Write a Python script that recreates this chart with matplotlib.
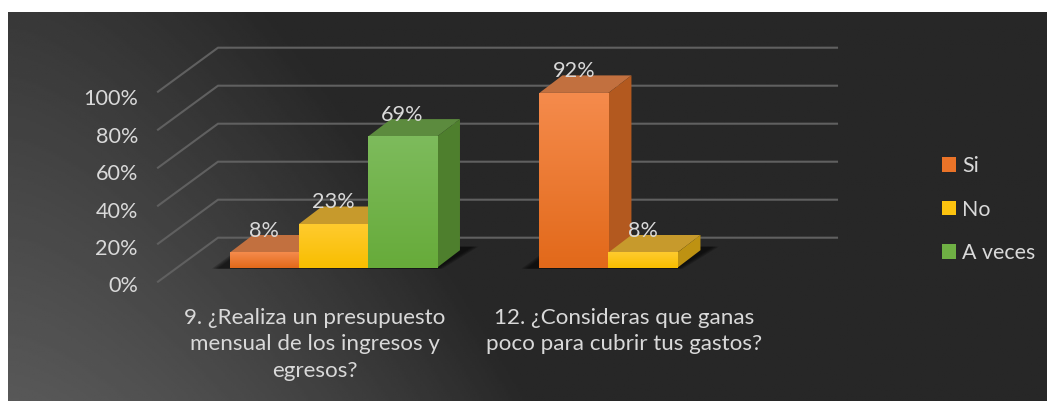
import matplotlib
matplotlib.use("Agg")
import matplotlib.pyplot as plt
import numpy as np
from matplotlib.colors import to_rgb
from matplotlib.patches import Patch, Polygon

W, H = 1047, 401

categories = ["9. ¿Realiza un presupuesto\nmensual de los ingresos y\negresos?",
              "12. ¿Consideras que ganas\npoco para cubrir tus gastos?"]
series_names = ["Si", "No", "A veces"]
si_values = [8, 92]
no_values = [23, 8]
aveces_values = [69, None]
yticks = [0, 20, 40, 60, 80, 100]

face_top = ["#F58B4C", "#FFCB2E", "#7DBB5C"]
face_bottom = ["#E2691A", "#F8BE00", "#67AB3A"]
roof = ["#C2703F", "#C79A2C", "#5C8B3E"]
side = ["#B3591F", "#BE9212", "#4E7F2D"]
legend_colors = ["#EA7328", "#FCC30F", "#6FB044"]
text_col = "#D9D9D9"

plt.rcParams["font.family"] = ["Lato", "DejaVu Sans"]

fig = plt.figure(figsize=(W / 100, H / 100), dpi=100, facecolor="white")


def px_axes(x0, y0, x1, y1):
    return fig.add_axes([x0 / W, 1 - y1 / H, (x1 - x0) / W, (y1 - y0) / H])


# dark backdrop, lighter towards the lower left corner
bg = px_axes(8, 12, W, H)
bg.axis("off")
yy, xx = np.mgrid[0:1:200j, 0:1:500j]
d = (xx * 2.0) ** 1.5 + (1 - yy) * 0.65
shade = 0.155 + 0.19 * np.clip(1 - d, 0, 1)
bg.imshow(shade, cmap="gray", vmin=0, vmax=1, extent=[0, 1, 0, 1], aspect="auto", origin="upper")

# plot area: front plane of the fake 3d box
ax = px_axes(158, 91.7, 777, 281.7)
ax.patch.set_alpha(0)
ax.axis("off")

depth_x = 60 / 309.5
depth_y = 44 / 1.9
bar_w = 0.223
bar_shift_x = 20.7 / 309.5
bar_shift_y = 14 / 1.9
bar_dx = 23 / 309.5
bar_dy = 17.5 / 1.9

# gridlines run along the left wall and across the back wall
for v in yticks:
    ax.plot([0, depth_x, 2 + depth_x], [v, v + depth_y, v + depth_y], color="#606060", lw=1.5,
            clip_on=False, zorder=1, solid_joinstyle="miter")
    ax.text(-0.065, v * 0.986 - 2.5, f"{v}%", ha="right", va="center", color=text_col, fontsize=15.6)

series = [si_values, no_values, aveces_values]
for c, name in enumerate(categories):
    left = c + 0.5 - 1.5 * bar_w + bar_shift_x
    n = sum(s[c] is not None for s in series)
    # floor shadow under the group, stacked polygons for a soft edge
    x0 = left - 0.04
    x1 = left + n * bar_w
    for k in range(4):
        grow = (3 - k) * 0.006
        ax.add_patch(Polygon([(x0 - grow, bar_shift_y - 0.5), (x1 + grow, bar_shift_y - 0.5),
                              (x1 + 1.55 * bar_dx + grow, bar_shift_y + 1.2 * bar_dy),
                              (x0 + 1.3 * bar_dx - grow, bar_shift_y + 1.2 * bar_dy)],
                             fc="black", alpha=0.2, ec="none", zorder=2, clip_on=False))
    for i, s in enumerate(series):
        v = s[c]
        if v is None:
            continue
        x = left + i * bar_w
        y0 = bar_shift_y
        y1 = y0 + v
        zo = 3 + i * 0.1
        ax.add_patch(Polygon([(x, y1), (x + bar_w, y1), (x + bar_w + bar_dx, y1 + bar_dy), (x + bar_dx, y1 + bar_dy)],
                             fc=roof[i], ec="none", zorder=zo, clip_on=False))
        ax.add_patch(Polygon([(x + bar_w, y0), (x + bar_w + bar_dx, y0 + bar_dy),
                              (x + bar_w + bar_dx, y1 + bar_dy), (x + bar_w, y1)],
                             fc=side[i], ec="none", zorder=zo, clip_on=False))
        grad = np.linspace(0, 1, 64)[:, None, None]
        rgb = (1 - grad) * np.array(to_rgb(face_top[i])) + grad * np.array(to_rgb(face_bottom[i]))
        ax.imshow(rgb, extent=[x, x + bar_w, y0, y1], aspect="auto", origin="upper", zorder=zo + 0.01)
        ax.text(x + bar_w / 2, y1 + bar_dy - 3.1, f"{v}%", ha="center", va="bottom", color=text_col,
                fontsize=15.6, zorder=6, clip_on=False)
    ax.text(c + 0.506, -13.9, name, ha="center", va="top", color=text_col, fontsize=16.1,
            linespacing=1.395, zorder=6, clip_on=False)
ax.set_xlim(0, 2)
ax.set_ylim(0, 100)

handles = [Patch(fc=col, ec="none") for col in legend_colors]
fig.legend(handles, series_names, loc="center left", bbox_to_anchor=(942 / W, 1 - 209.5 / H), frameon=False,
           fontsize=15.4, labelcolor=text_col, handlelength=0.655, handleheight=0.655, handletextpad=0.28,
           labelspacing=1.1, borderpad=0, borderaxespad=0)

fig.savefig("out.png", dpi=100, facecolor="white")
